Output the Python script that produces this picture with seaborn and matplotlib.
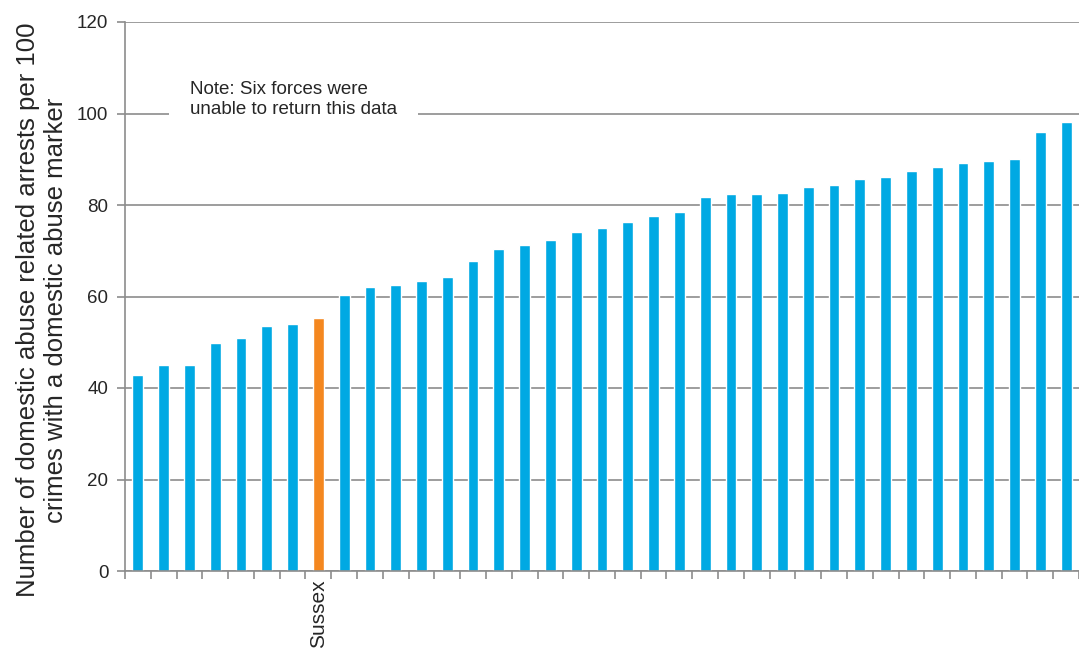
import numpy as np
import pandas as pd
import matplotlib
matplotlib.use("Agg")
import matplotlib.pyplot as plt
import seaborn as sns

# arrests per 100 crimes with a DA marker, sorted ascending (37 forces)
values = [42.8, 45.0, 45.0, 49.8, 51.0, 53.6, 54.0, 55.3,
          60.4, 62.1, 62.5, 63.4, 64.3, 67.7, 70.3, 71.2, 72.3,
          74.1, 75.0, 76.3, 77.6, 78.4, 81.8, 82.3, 82.3, 82.7,
          83.9, 84.4, 85.7, 86.1, 87.4, 88.3, 89.2, 89.6, 90.1,
          96.0, 98.1]
highlight = "Sussex"
highlight_pos = 7
forces = ["Force %d" % (i + 1) for i in range(len(values))]
forces[highlight_pos] = highlight

blue = "#00A9E3"
orange = "#F4871F"
grey = "#8c8c8c"

df = pd.DataFrame({"force": forces, "value": values})
df["group"] = np.where(df["force"] == highlight, "hl", "other")

sns.set_style("white")
plt.rcParams["font.family"] = ["Liberation Sans", "DejaVu Sans"]

fig = plt.figure(figsize=(10.79, 6.53), dpi=100)
ax = fig.add_axes([125 / 1079, 1 - 571 / 653, 1 - 125 / 1079, (571 - 22) / 653])

sns.barplot(data=df, x="force", y="value", hue="group",
            palette={"other": blue, "hl": orange}, width=0.42,
            legend=False, saturation=1, ax=ax)

ax.set_ylim(0, 120)
ax.set_xlim(-0.5, len(values) - 0.5)
ax.set_yticks(range(0, 121, 20))
ax.yaxis.grid(True, color=grey, linewidth=1.2)
ax.set_axisbelow(True)

# only Sussex gets a label; ticks sit at the category boundaries
labels = [f if f == highlight else "" for f in forces]
ax.set_xticks(range(len(values)))
ax.set_xticklabels(labels, rotation=90, fontsize=15)
ax.set_xticks(np.arange(-0.5, len(values), 1), minor=True)
ax.tick_params(axis="x", which="major", bottom=False, length=0, pad=6)
ax.tick_params(axis="x", which="minor", bottom=True, length=6, width=1.2, color=grey)
ax.tick_params(axis="y", left=True, length=6, width=1.2, color=grey, labelsize=13.5, pad=6)

for s in ["top", "right"]:
    ax.spines[s].set_visible(False)
for s in ["left", "bottom"]:
    ax.spines[s].set_color(grey)
    ax.spines[s].set_linewidth(1.2)

ax.set_xlabel("")
ax.set_ylabel("Number of domestic abuse related arrests per 100\ncrimes with a domestic abuse marker",
              fontsize=18.5, linespacing=1.2)
ax.yaxis.set_label_coords(-0.06, 0.475)

ax.text(2.02, 103, "Note: Six forces were\nunable to return this data",
        fontsize=13.5, va="center", ha="left", linespacing=1.25,
        bbox=dict(facecolor="white", edgecolor="none", pad=15))

plt.savefig("out.png", dpi=100)
